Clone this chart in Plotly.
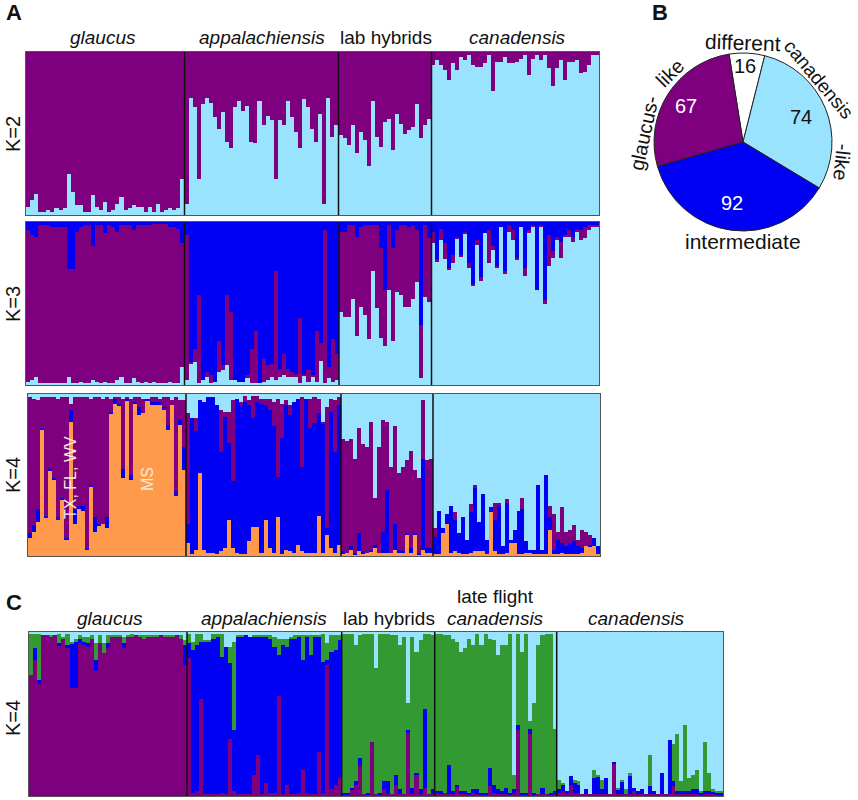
import numpy as np
import plotly.graph_objects as go

W, H = 858, 800
PURPLE, LIGHT, BLUE, ORANGE, GREEN = "#7f007f", "#99e3ff", "#0000f5", "#ff9a4d", "#339933"
FONT = "Liberation Sans"

# ---------- K=2 (top of light-blue share, %) ----------
k2_light_gla = [5,9,13,2,2,3,2,4,3,4,25,14,6,6,2,2,12,5,3,8,2,3,7,11,3,4,6,5,5,2,5,2,7,2,3,4,3,4,22]
k2_light_app = [7,72,66,22,68,72,69,60,53,63,45,41,66,70,64,67,45,44,70,55,61,58,22,58,55,70,60,51,41,71,66,53,45,62,7,72,48,55]
k2_light_hyb = [49,47,43,55,38,51,46,30,70,48,42,57,59,40,62,56,50,52,54,68,47,55,59]
k2_light_can = [92,95,92,89,83,93,89,97,95,98,92,91,91,93,98,76,94,94,97,93,93,94,96,98,86,96,98,95,98,90,79,90,95,83,94,94,95,87,88,92,98,98]

# ---------- K=3 (cumulative tops, %) ----------
k3_light_gla = [2,3,5,1,1,1,1,1,1,1,5,1,1,2,1,1,3,2,1,2,1,1,3,5,1,1,4,2,1,2,1,2,1,1,1,2,1,1,11]
k3_purple_gla = [95,92,91,98,98,98,97,97,97,97,71,71,94,97,98,98,85,98,98,93,98,97,94,98,98,98,95,98,98,98,98,99,99,99,99,97,97,96,87]
k3_light_app = [3,13,14,1,3,5,1,2,8,9,12,3,3,2,2,4,1,1,1,2,3,5,3,5,6,5,5,5,1,6,2,5,2,15,1,4,2,3]
k3_purple_app = [92,14,22,55,3,8,6,2,27,12,55,45,3,2,2,6,22,33,1,16,12,13,70,10,19,10,8,7,41,7,9,6,33,26,95,11,28,19]
k3_light_hyb = [45,42,42,53,30,48,43,28,70,47,29,24,58,27,57,55,48,48,53,63,4,54,51]
k3_purple_hyb = [94,94,98,98,91,97,98,98,98,98,84,58,98,84,95,98,98,97,98,95,37,98,90]
k3_light_can = [87,76,89,77,71,75,90,79,93,72,61,86,64,93,75,83,72,97,68,94,89,77,97,67,93,97,58,97,50,73,78,89,78,91,91,88,94,89,90,95,97,97]
k3_purple_can = [94,77,96,87,72,80,91,80,94,75,62,89,66,93,95,85,73,97,70,98,95,78,97,72,95,98,58,98,52,92,82,91,88,92,95,91,95,95,97,98,98,98]

# ---------- K=4, panel A (cumulative tops, %) ----------
k4_orange_gla = [11,15,21,78,24,53,47,22,35,10,83,20,29,28,4,43,15,19,20,17,88,94,93,48,96,47,94,87,88,96,93,93,93,90,78,93,37,81,53]
k4_blue_gla = [14,19,29,79,25,54,48,24,36,11,90,29,31,31,5,44,24,20,20,24,89,97,94,54,97,50,95,92,88,97,95,95,95,92,81,93,40,84,67]
k4_purple_gla = [98,97,96,98,98,98,98,97,98,98,94,98,98,98,98,97,98,98,97,98,97,98,98,97,98,97,98,98,97,97,98,98,97,98,98,96,98,96,96]
k4_orange_app = [8,1,4,51,4,2,2,1,3,5,22,5,2,1,1,9,18,18,2,22,5,2,24,1,4,3,2,7,3,2,2,2,25,2,13,5,2,7]
k4_blue_app = [20,85,77,96,95,98,98,93,64,86,70,46,97,93,95,93,85,95,94,93,90,80,49,73,93,87,95,97,55,97,79,82,88,82,17,89,64,93]
k4_purple_app = [88,85,85,96,95,98,94,93,90,89,89,96,97,95,99,96,99,99,97,97,97,95,97,94,96,93,94,97,98,96,97,98,97,83,92,97,96,98]
k4_orange_hyb = [1,2,4,1,3,1,2,3,5,2,2,2,2,4,2,2,13,2,13,1,4,2,2]
k4_blue_hyb = [3,2,6,2,14,3,2,4,7,2,15,41,2,20,4,3,14,5,14,2,60,5,5]
k4_purple_hyb = [72,71,72,60,79,69,67,83,36,67,84,83,55,80,51,55,59,65,53,48,96,59,60]
k4_orange_can = [1,1,14,20,2,3,2,1,1,2,3,3,3,1,27,3,1,1,2,8,8,1,1,2,2,1,1,1,1,16,1,1,2,1,1,1,1,2,6,6,6,1]
k4_blue_can = [12,28,17,26,31,22,14,24,10,27,42,21,38,10,30,22,31,6,33,10,16,28,29,9,4,4,44,4,50,24,4,10,8,6,8,9,6,5,6,7,11,6]
k4_purple_can = [17,28,17,26,31,27,14,24,10,32,44,21,38,10,30,33,33,6,35,10,16,28,36,9,4,4,44,4,50,31,26,15,30,15,16,19,10,16,15,13,11,6]

# ---------- K=4, panel C (cumulative tops, %) ----------
c_purple_gla = [74,83,68,98,98,97,98,92,96,90,66,66,93,92,91,96,76,93,87,90,97,97,97,90,97,97,98,97,96,97,97,97,98,97,97,97,98,96,80]
c_blue_gla = [74,90,71,98,98,97,98,93,96,92,93,94,96,94,93,96,83,93,87,93,97,97,97,93,97,97,98,97,96,97,97,97,98,97,97,97,98,96,92]
c_green_gla = [99,99,99,98,98,98,98,99,97,99,94,96,98,97,97,98,93,98,93,98,98,98,98,97,98,99,98,98,98,98,98,98,98,98,98,98,98,98,95]
c_purple_app = [84,2,3,59,1,1,1,1,2,1,35,3,1,1,1,1,13,25,1,8,2,2,61,1,7,1,1,2,16,2,1,1,27,2,80,4,7,11]
c_blue_app = [93,89,92,94,94,94,96,97,85,91,81,40,97,97,98,97,97,97,97,97,96,91,86,92,91,96,96,97,83,97,86,97,97,82,83,88,89,95]
c_green_app = [99,94,99,99,95,95,99,99,99,91,91,94,98,98,98,96,98,98,98,98,98,97,96,96,96,97,98,98,98,98,98,98,98,99,93,98,98,98]
c_purple_hyb = [1,1,4,7,18,1,1,33,1,1,4,1,1,7,1,1,39,1,13,1,5,1,1]
c_blue_hyb = [2,2,5,9,23,1,2,33,1,2,9,9,1,13,4,1,40,5,14,4,53,1,4]
c_green_hyb = [99,99,99,92,98,99,99,99,78,99,99,99,98,98,92,97,57,97,88,95,99,99,98]
c_purple_late = [2,1,2,1,1,6,1,1,1,2,1,1,1,6,2,1,1,1,1,1,40,1,1,38,1,1,1,1,1,1]
c_blue_late = [3,3,2,19,3,7,3,3,2,4,4,2,2,17,7,4,3,5,2,4,43,2,2,41,2,1,5,1,2,3]
c_green_late = [99,99,98,98,96,94,88,90,96,92,99,92,99,96,95,86,92,92,99,13,99,88,99,46,57,92,98,99,99,41]
c_purple_can = [2,3,2,7,2,2,1,1,1,1,1,1,1,1,20,1,1,1,1,3,1,1,1,1,1,1,1,1,1,6,1,1,1,1,1,1,1,1,1,1,1,1]
c_blue_can = [4,7,3,12,8,7,1,4,1,11,12,4,11,1,21,4,9,1,12,5,3,4,1,6,3,1,14,1,34,9,3,3,3,3,4,4,2,3,3,3,2,2]
c_green_can = [10,8,3,12,10,9,1,4,1,16,13,10,11,1,21,5,10,4,14,5,3,4,1,25,3,1,14,1,34,32,38,9,43,11,13,16,3,33,14,4,3,3]

# ---------- Pie ----------
pie_labels = ["different", "canadensis-like", "intermediate", "glaucus-like"]
pie_values = [16, 74, 92, 67]
pie_colors = ["#ffffff", LIGHT, BLUE, PURPLE]

# ---------- Layout constants (pixels of the 858x800 canvas) ----------
panels = [
    dict(edges=[26, 184.5, 338.5, 431.5, 599], top=52, bot=215, ylab="K=2", laby=134,
         groups=[[k2_light_gla], [k2_light_app], [k2_light_hyb], [k2_light_can]],
         colors=[LIGHT], cap=PURPLE),
    dict(edges=[26, 184.5, 339, 431.5, 599], top=222, bot=385, ylab="K=3", laby=304,
         groups=[[k3_light_gla, k3_purple_gla], [k3_light_app, k3_purple_app],
                 [k3_light_hyb, k3_purple_hyb], [k3_light_can, k3_purple_can]],
         colors=[LIGHT, PURPLE], cap=BLUE),
    dict(edges=[28, 186, 341, 433, 600], top=394, bot=556, ylab="K=4", laby=475,
         groups=[[k4_orange_gla, k4_blue_gla, k4_purple_gla], [k4_orange_app, k4_blue_app, k4_purple_app],
                 [k4_orange_hyb, k4_blue_hyb, k4_purple_hyb], [k4_orange_can, k4_blue_can, k4_purple_can]],
         colors=[ORANGE, BLUE, PURPLE], cap=LIGHT),
    dict(edges=[29, 187, 341.7, 434.7, 556.7, 723], top=632, bot=796, ylab="K=4", laby=718,
         groups=[[c_purple_gla, c_blue_gla, c_green_gla], [c_purple_app, c_blue_app, c_green_app],
                 [c_purple_hyb, c_blue_hyb, c_green_hyb], [c_purple_late, c_blue_late, c_green_late],
                 [c_purple_can, c_blue_can, c_green_can]],
         colors=[PURPLE, BLUE, GREEN], cap=LIGHT),
]


def px(x):
    return x / W


def py(y):
    return 1 - y / H


fig = go.Figure()
shapes, annotations, layout_axes = [], [], {}


def label(text, x, y, size=19, color="#111", angle=0, italic=False, bold=False):
    annotations.append(dict(
        text=text, x=px(x), y=py(y), xref="paper", yref="paper", showarrow=False,
        xanchor="center", yanchor="middle", textangle=angle,
        font=dict(family=FONT, size=size, color=color,
                  style="italic" if italic else "normal",
                  weight=700 if bold else 400),
    ))


for n, p in enumerate(panels, start=1):
    edges = p["edges"]
    suffix = "" if n == 1 else str(n)
    xs, ws, stacks = [], [], [[] for _ in range(len(p["colors"]) + 1)]
    for g, lists in enumerate(p["groups"]):
        count = len(lists[0])
        w = (edges[g + 1] - edges[g]) / count
        xs += [edges[g] + (i + 0.5) * w for i in range(count)]
        ws += [w] * count
        tops = np.maximum.accumulate(np.array(lists, dtype=float), axis=0)
        tops = np.vstack([np.zeros(count), tops, np.full(count, 100.0)])
        for k, seg in enumerate(np.diff(tops, axis=0)):
            stacks[k] += seg.tolist()
    for seg, color in zip(stacks, p["colors"] + [p["cap"]]):
        fig.add_trace(go.Bar(x=xs, y=seg, width=ws, marker=dict(color=color, line=dict(width=0)),
                             xaxis="x" + suffix, yaxis="y" + suffix, showlegend=False, hoverinfo="skip"))
    layout_axes["xaxis" + suffix] = dict(
        domain=[px(edges[0]), px(edges[-1])], range=[edges[0], edges[-1]], anchor="y" + suffix,
        showgrid=False, zeroline=False, showticklabels=False, ticks="",
        showline=True, mirror=True, linecolor="#555", linewidth=1)
    layout_axes["yaxis" + suffix] = dict(
        domain=[py(p["bot"]), py(p["top"])], range=[0, 100], anchor="x" + suffix,
        showgrid=False, zeroline=False, showticklabels=False, ticks="",
        showline=True, mirror=True, linecolor="#555", linewidth=1)
    for e in edges[1:-1]:
        shapes.append(dict(type="line", xref="x" + suffix, yref="y%s domain" % suffix,
                           x0=e, x1=e, y0=0, y1=1, line=dict(color="#111", width=1.5), layer="above"))
    label(p["ylab"], 13, p["laby"], size=20, angle=-90)

# Pie
cx, cy, r = 743, 142, 89
fig.add_trace(go.Pie(
    labels=pie_labels, values=pie_values, sort=False, direction="clockwise", rotation=-9,
    marker=dict(colors=pie_colors, line=dict(color="#222", width=1)),
    textinfo="none", hoverinfo="skip", showlegend=False,
    domain=dict(x=[px(cx - r), px(cx + r)], y=[py(cy + r), py(cy - r)]),
))
for val, (x, y), col in zip(pie_values, [(745, 66), (801, 117), (732, 203), (686, 106)],
                            ["#111", "#111", "#fff", "#fff"]):
    label(str(val), x, y, size=20, color=col)

# Pie outer labels
label("different", 743, 43, size=21, angle=2)
label("canadensis", 819, 79, size=19, angle=50)
label("-like", 842, 162, size=20, angle=96)
label("intermediate", 743, 241, size=21)
label("glaucus-", 644, 133, size=20, angle=-78)
label("like", 670, 73, size=20, angle=-45)

# Column headers
label("glaucus", 103, 38, italic=True)
label("appalachiensis", 262, 38, italic=True)
label("lab hybrids", 386, 38)
label("canadensis", 517, 38, italic=True)
label("glaucus", 110, 618, italic=True)
label("appalachiensis", 264, 618, italic=True)
label("lab hybrids", 389, 618)
label("late flight", 496, 596)
label("canadensis", 496, 618, italic=True)
label("canadensis", 636, 618, italic=True)

# In-panel notes and panel letters
label("TX, FL, WV", 70, 478, size=16, color="#f5eadf", angle=-90)
label("MS", 147, 479, size=16, color="#f5eadf", angle=-90)
label("A", 14, 13, size=22, bold=True)
label("B", 660, 13, size=22, bold=True)
label("C", 14, 602, size=22, bold=True)

fig.update_layout(
    width=W, height=H, margin=dict(l=0, r=0, t=0, b=0), autosize=False,
    barmode="stack", bargap=0, paper_bgcolor="#fff", plot_bgcolor="#fff",
    shapes=shapes, annotations=annotations, showlegend=False, **layout_axes,
)
fig.write_html("out.html", config={"displayModeBar": False},
               post_script="document.body.style.margin='0';")
